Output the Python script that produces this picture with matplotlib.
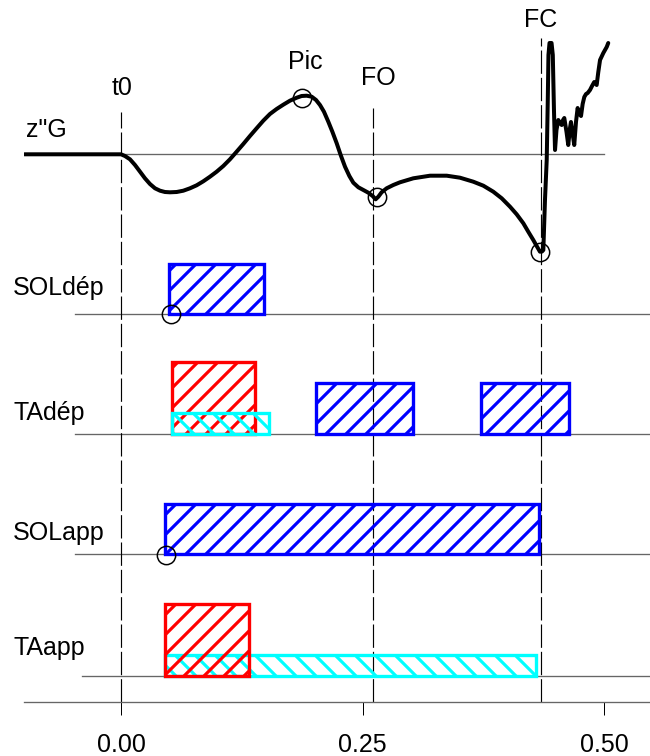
import matplotlib
matplotlib.use('Agg')
import matplotlib.pyplot as plt

plt.rcParams['font.family'] = ['Liberation Sans', 'DejaVu Sans']
plt.rcParams['hatch.linewidth'] = 1.9
plt.rcParams['lines.scale_dashes'] = False

# ---------------- data ----------------
# z"G curve (time in s, acceleration in arbitrary units, 0 = baseline)
zg_t = [-0.100, 0.000, 0.0041, 0.0093, 0.0145, 0.0197, 0.0248, 0.0300, 0.0352,
        0.0404, 0.0455, 0.0507, 0.0576, 0.0645, 0.0714, 0.0783, 0.0852, 0.0921,
        0.0990, 0.1059, 0.1128, 0.1197, 0.1266, 0.1335, 0.1404, 0.1473, 0.1542,
        0.1611, 0.1680, 0.1749, 0.1819, 0.1870, 0.1922, 0.1974, 0.2019, 0.2060,
        0.2101, 0.2146, 0.2188, 0.2233, 0.2274, 0.2319, 0.2364, 0.2405, 0.2457,
        0.2509, 0.2560, 0.2605, 0.2636, 0.2664, 0.2698, 0.2750, 0.2819, 0.2888,
        0.3026, 0.3199, 0.3372, 0.3509, 0.3647, 0.3751, 0.3854, 0.3941, 0.4027,
        0.4096, 0.4165, 0.4216, 0.4268, 0.4303, 0.4337, 0.4358, 0.4372, 0.4389,
        0.4407, 0.4418, 0.4425, 0.4436, 0.4457, 0.4470, 0.4482, 0.4493, 0.4508,
        0.4527, 0.4545, 0.4562, 0.4576, 0.4589, 0.4612, 0.4630, 0.4648, 0.4658,
        0.4677, 0.4692, 0.4710, 0.4727, 0.4746, 0.4762, 0.4779, 0.4796, 0.4814,
        0.4831, 0.4855, 0.4876, 0.4899, 0.4924, 0.4941, 0.4959, 0.4993, 0.5028,
        0.5044]
zg_v = [0.00, 0.00, -0.085, -0.25, -0.535, -0.87, -1.20, -1.485, -1.70,
        -1.82, -1.885, -1.90, -1.885, -1.82, -1.70, -1.55, -1.35, -1.12,
        -0.87, -0.585, -0.25, 0.13, 0.515, 0.915, 1.30, 1.68, 2.015,
        2.265, 2.48, 2.68, 2.83, 2.915, 2.93, 2.88, 2.715, 2.465,
        2.13, 1.63, 1.13, 0.55, -0.035, -0.62, -1.085, -1.42, -1.65,
        -1.785, -1.92, -2.085, -2.25, -2.12, -1.90, -1.70, -1.535, -1.40,
        -1.20, -1.07, -1.07, -1.17, -1.37, -1.57, -1.87, -2.20, -2.62,
        -3.00, -3.45, -3.87, -4.285, -4.585, -4.87, -4.86, -4.785, -2.285,
        -0.285, 2.715, 4.965, 5.565, 5.565, 4.965, 2.215, 0.215, 1.215,
        1.715, 1.565, 1.465, 1.715, 1.815, 1.115, 0.465, 1.315, 1.615,
        0.965, 0.465, 1.615, 2.315, 2.015, 1.915, 2.515, 2.865, 3.015,
        3.065, 3.215, 3.415, 3.615, 3.465, 4.115, 4.715, 5.065, 5.365,
        5.565]

# event markers on z"G
event_names = ['t0', 'FO', 'FC']
event_t = [0.000, 0.261, 0.435]
circle_t = [0.1874, 0.265, 0.434]        # Pic, FO, FC
circle_v = [2.83, -2.135, -4.87]

# EMG activity bars (start, end in s)
sol_dep_start, sol_dep_end = [0.050], [0.148]
ta_dep_red_start, ta_dep_red_end = [0.053], [0.139]
ta_dep_cyan_start, ta_dep_cyan_end = [0.053], [0.153]
ta_dep_blue_start, ta_dep_blue_end = [0.202, 0.373], [0.302, 0.464]
sol_app_start, sol_app_end = [0.046], [0.433]
ta_app_red_start, ta_app_red_end = [0.046], [0.132]
ta_app_cyan_start, ta_app_cyan_end = [0.046], [0.430]
onset_sol_dep = [0.052]
onset_sol_app = [0.047]

row_labels = ['SOLdép', 'TAdép', 'SOLapp', 'TAapp']
tick_vals = [0.00, 0.25, 0.50]
tick_labels = ['0.00', '0.25', '0.50']

# ---------------- layout ----------------
W, H, DPI = 650, 756, 120
fig = plt.figure(figsize=(W / DPI, H / DPI), dpi=DPI)
ax = fig.add_axes([24.4 / W, 0, 627.9 / W, 1])
ax.set_xlim(-0.10, 0.55)
ax.set_ylim(0, H)

ZG_BASE, ZG_SCALE = 601.7, 20.0
ROW_BASE = [441.7, 322.3, 202.5, 80.0]
AXIS_Y = 54
BLUE, RED, CYAN = '#0000ff', '#ff0000', '#00ffff'
GRAY = '#666666'
FS = 15

# baselines
ax.plot([-0.10, 0.50], [ZG_BASE, ZG_BASE], color=GRAY, lw=0.8, zorder=1)
for yb, x0 in zip(ROW_BASE, [-0.048, -0.048, -0.048, -0.040]):
    ax.plot([x0, 0.55], [yb, yb], color=GRAY, lw=0.8, zorder=1)

# dashed event lines
ev_top = [644, 648, 718]
for t, top in zip(event_t, ev_top):
    ax.plot([t, t], [AXIS_Y, top], color='black', lw=0.7,
            linestyle=(0, (14, 2.4)), zorder=1)

# z"G curve
ax.plot(zg_t, [ZG_BASE + v * ZG_SCALE for v in zg_v], color='black',
        lw=2.4, zorder=3, solid_joinstyle='round', solid_capstyle='round')
ax.plot(circle_t, [ZG_BASE + v * ZG_SCALE for v in circle_v], 'o', ms=11,
        mfc='none', mec='black', mew=0.9, zorder=5)


def bars(starts, ends, base, height, color, hatch, z=2):
    ax.bar(starts, height, width=[e - s for s, e in zip(starts, ends)],
           bottom=base, align='edge', facecolor='none', edgecolor=color,
           hatch=hatch, linewidth=2.0, zorder=z)


bars(sol_dep_start, sol_dep_end, ROW_BASE[0], 50, BLUE, '//')
bars(ta_dep_red_start, ta_dep_red_end, ROW_BASE[1], 72, RED, '//')
bars(ta_dep_cyan_start, ta_dep_cyan_end, ROW_BASE[1], 21, CYAN, '\\\\', z=2.5)
bars(ta_dep_blue_start, ta_dep_blue_end, ROW_BASE[1], 51, BLUE, '//')
bars(sol_app_start, sol_app_end, ROW_BASE[2], 50, BLUE, '//')
bars(ta_app_cyan_start, ta_app_cyan_end, ROW_BASE[3], 21, CYAN, '\\\\')
bars(ta_app_red_start, ta_app_red_end, ROW_BASE[3], 72, RED, '//', z=2.5)

ax.plot(onset_sol_dep, [ROW_BASE[0]], 'o', ms=11, mfc='none', mec='black',
        mew=0.9, zorder=5)
ax.plot(onset_sol_app, [ROW_BASE[2] - 1.5], 'o', ms=11, mfc='none', mec='black',
        mew=0.9, zorder=5)

# texts
ax.text(-0.0983, 619, 'z"G', fontsize=FS, ha='left', va='baseline')
ax.text(0.001, 661, 't0', fontsize=FS, ha='center', va='baseline')
ax.text(0.1905, 687, 'Pic', fontsize=FS, ha='center', va='baseline')
ax.text(0.266, 671, 'FO', fontsize=FS, ha='center', va='baseline')
ax.text(0.4348, 729, 'FC', fontsize=FS, ha='center', va='baseline')
for lab, yb in zip(row_labels, [461, 336, 216, 101]):
    ax.text(-0.1118, yb, lab, fontsize=FS, ha='left', va='baseline',
            clip_on=False)

# x axis
for s in ['top', 'left', 'right']:
    ax.spines[s].set_visible(False)
ax.spines['bottom'].set_position(('data', AXIS_Y))
ax.spines['bottom'].set_color(GRAY)
ax.spines['bottom'].set_linewidth(0.8)
ax.set_yticks([])
ax.set_xticks(tick_vals)
ax.set_xticklabels(tick_labels)
ax.tick_params(axis='x', direction='out', length=7.8, width=0.6,
               color='black', labelsize=FS, pad=10.8)
ax.patch.set_visible(False)

fig.savefig('out.png', dpi=DPI)
